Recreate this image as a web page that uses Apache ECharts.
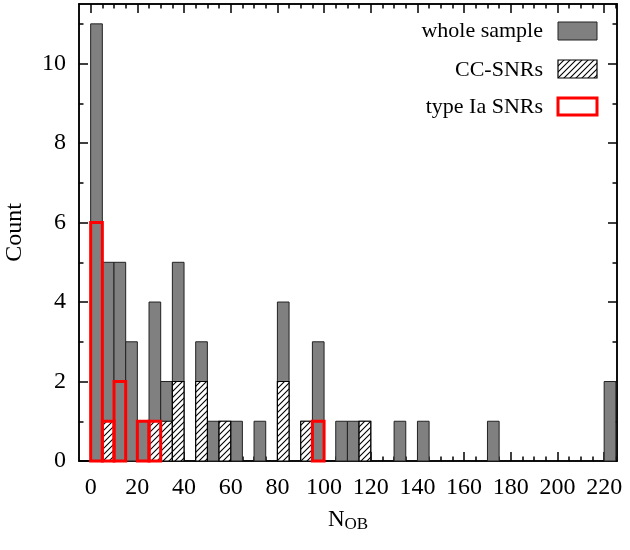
<!DOCTYPE html>
<html>
<head>
<meta charset="utf-8">
<script src="https://cdn.jsdelivr.net/npm/echarts@6/dist/echarts.min.js"></script>
<style>html,body{margin:0;padding:0;background:#fff;}#c{width:630px;height:550px;}</style>
</head>
<body>
<div id="c"></div>
<script>
// Histogram bins: width 5, starting at 0 (bin i covers [5i, 5i+5))
const binWidth = 5;
const wholeSample = [11,5,5,3,1,4,2,5,0,3,1,1,1,0,1,0,4,0,1,3,0,1,1,1,0,0,1,0,1,0,0,0,0,0,1,0,0,0,0,0,0,0,0,0,2];
const ccSNRs      = [0,1,0,0,0,1,1,2,0,2,0,1,0,0,0,0,2,0,1,0,0,0,0,1,0,0,0,0,0,0,0,0,0,0,0,0,0,0,0,0,0,0,0,0,0];
const iaSNRs      = [6,1,2,0,1,1,0,0,0,0,0,0,0,0,0,0,0,0,0,1,0,0,0,0,0,0,0,0,0,0,0,0,0,0,0,0,0,0,0,0,0,0,0,0,0];
const xMajorTicks = [0,20,40,60,80,100,120,140,160,180,200,220];
const xMinorTicks = [];
for (let v = 5; v <= 225; v += 5) if (v % 20 !== 0) xMinorTicks.push(v);
const yMajorTicks = [0,2,4,6,8,10];
const yMinorTicks = [1,3,5,7,9,11];

const FONT = 'Liberation Serif';

function toBins(arr) {
  const out = [];
  arr.forEach((c, i) => { if (c > 0) out.push([i * binWidth, (i + 1) * binWidth, c]); });
  return out;
}

// hatch pattern
const pc = document.createElement('canvas');
pc.width = 6; pc.height = 6;
const g = pc.getContext('2d');
g.fillStyle = '#fff'; g.fillRect(0, 0, 6, 6);
g.strokeStyle = '#000'; g.lineWidth = 1.1;
g.beginPath();
g.moveTo(0, 6); g.lineTo(6, 0);
g.moveTo(-1, 1); g.lineTo(1, -1);
g.moveTo(5, 7); g.lineTo(7, 5);
g.stroke();
const hatch = { image: pc, repeat: 'repeat' };

function barRenderer(style) {
  return function (params, api) {
    const p0 = api.coord([api.value(0), api.value(2)]);
    const p1 = api.coord([api.value(1), 0]);
    return {
      type: 'rect',
      shape: { x: p0[0], y: p0[1], width: p1[0] - p0[0], height: p1[1] - p0[1] },
      style: style
    };
  };
}

const chart = echarts.init(document.getElementById('c'));

const X_MIN = -5, X_MAX = 225.5, Y_MIN = 0, Y_MAX = 11.5;
function xAx(pos, ticks, len, labels) {
  return {
    type: 'value', position: pos, min: X_MIN, max: X_MAX,
    axisLine: { show: true, onZero: false, lineStyle: { color: '#000', width: 1.5 } },
    axisTick: { show: true, inside: true, length: len, customValues: ticks, lineStyle: { color: '#000', width: 1.5 } },
    axisLabel: labels ? { show: true, customValues: ticks, margin: 15, fontFamily: FONT, fontSize: 24, color: '#000' } : { show: false },
    splitLine: { show: false }
  };
}
function yAx(pos, ticks, len, labels) {
  return {
    type: 'value', position: pos, min: Y_MIN, max: Y_MAX,
    axisLine: { show: true, onZero: false, lineStyle: { color: '#000', width: 1.5 } },
    axisTick: { show: true, inside: true, length: len, customValues: ticks, lineStyle: { color: '#000', width: 1.5 } },
    axisLabel: labels ? { show: true, customValues: ticks, margin: 13, fontFamily: FONT, fontSize: 24, color: '#000' } : { show: false },
    splitLine: { show: false }
  };
}

const xAxes = [xAx('bottom', xMajorTicks, 9, true), xAx('bottom', xMinorTicks, 4.5, false), xAx('top', xMajorTicks, 9, false), xAx('top', xMinorTicks, 4.5, false)];
xAxes[0].name = '{n|N}{s|OB}';
xAxes[0].nameLocation = 'middle';
xAxes[0].nameGap = 47;
xAxes[0].nameTextStyle = {
  color: '#000', fontFamily: FONT,
  rich: {
    n: { fontFamily: FONT, fontSize: 23, color: '#000', lineHeight: 25, verticalAlign: 'top' },
    s: { fontFamily: FONT, fontSize: 17, color: '#000', lineHeight: 17, padding: [9, 0, 0, 0], verticalAlign: 'bottom' }
  }
};
const yAxes = [yAx('left', yMajorTicks, 9, true), yAx('left', yMinorTicks, 4.5, false), yAx('right', yMajorTicks, 9, false), yAx('right', yMinorTicks, 4.5, false)];
yAxes[0].name = 'Count';
yAxes[0].nameLocation = 'middle';
yAxes[0].nameGap = 52;
yAxes[0].nameTextStyle = { color: '#000', fontFamily: FONT, fontSize: 24 };

chart.setOption({
  animation: false,
  backgroundColor: '#fff',
  grid: { left: 79, right: 13, top: 4, bottom: 89, containLabel: false, outerBoundsMode: 'none' },
  xAxis: xAxes,
  yAxis: yAxes,
  series: [
    { name: 'whole sample', type: 'custom', xAxisIndex: 0, yAxisIndex: 0, data: toBins(wholeSample),
      renderItem: barRenderer({ fill: '#808080', stroke: '#222', lineWidth: 1 }) },
    { name: 'CC-SNRs', type: 'custom', xAxisIndex: 0, yAxisIndex: 0, data: toBins(ccSNRs),
      renderItem: barRenderer({ fill: hatch, stroke: '#000', lineWidth: 1.2 }) },
    { name: 'type Ia SNRs', type: 'custom', xAxisIndex: 0, yAxisIndex: 0, data: toBins(iaSNRs),
      renderItem: barRenderer({ fill: 'none', stroke: '#ff0000', lineWidth: 3 }) }
  ],
  graphic: [
    { type: 'text', right: 630 - 543, top: 20, style: { text: 'whole sample', font: '22px "Liberation Serif"', fill: '#000' } },
    { type: 'rect', shape: { x: 558, y: 22, width: 39, height: 18 }, style: { fill: '#808080', stroke: '#222', lineWidth: 1 } },
    { type: 'text', right: 630 - 543, top: 59, style: { text: 'CC-SNRs', font: '22px "Liberation Serif"', fill: '#000' } },
    { type: 'rect', shape: { x: 558, y: 60, width: 39, height: 18 }, style: { fill: hatch, stroke: '#000', lineWidth: 1.2 } },
    { type: 'text', right: 630 - 543, top: 96, style: { text: 'type Ia SNRs', font: '22px "Liberation Serif"', fill: '#000' } },
    { type: 'rect', shape: { x: 558, y: 98, width: 39, height: 17 }, style: { fill: 'none', stroke: '#ff0000', lineWidth: 3 } }
  ]
});
</script>
</body>
</html>
